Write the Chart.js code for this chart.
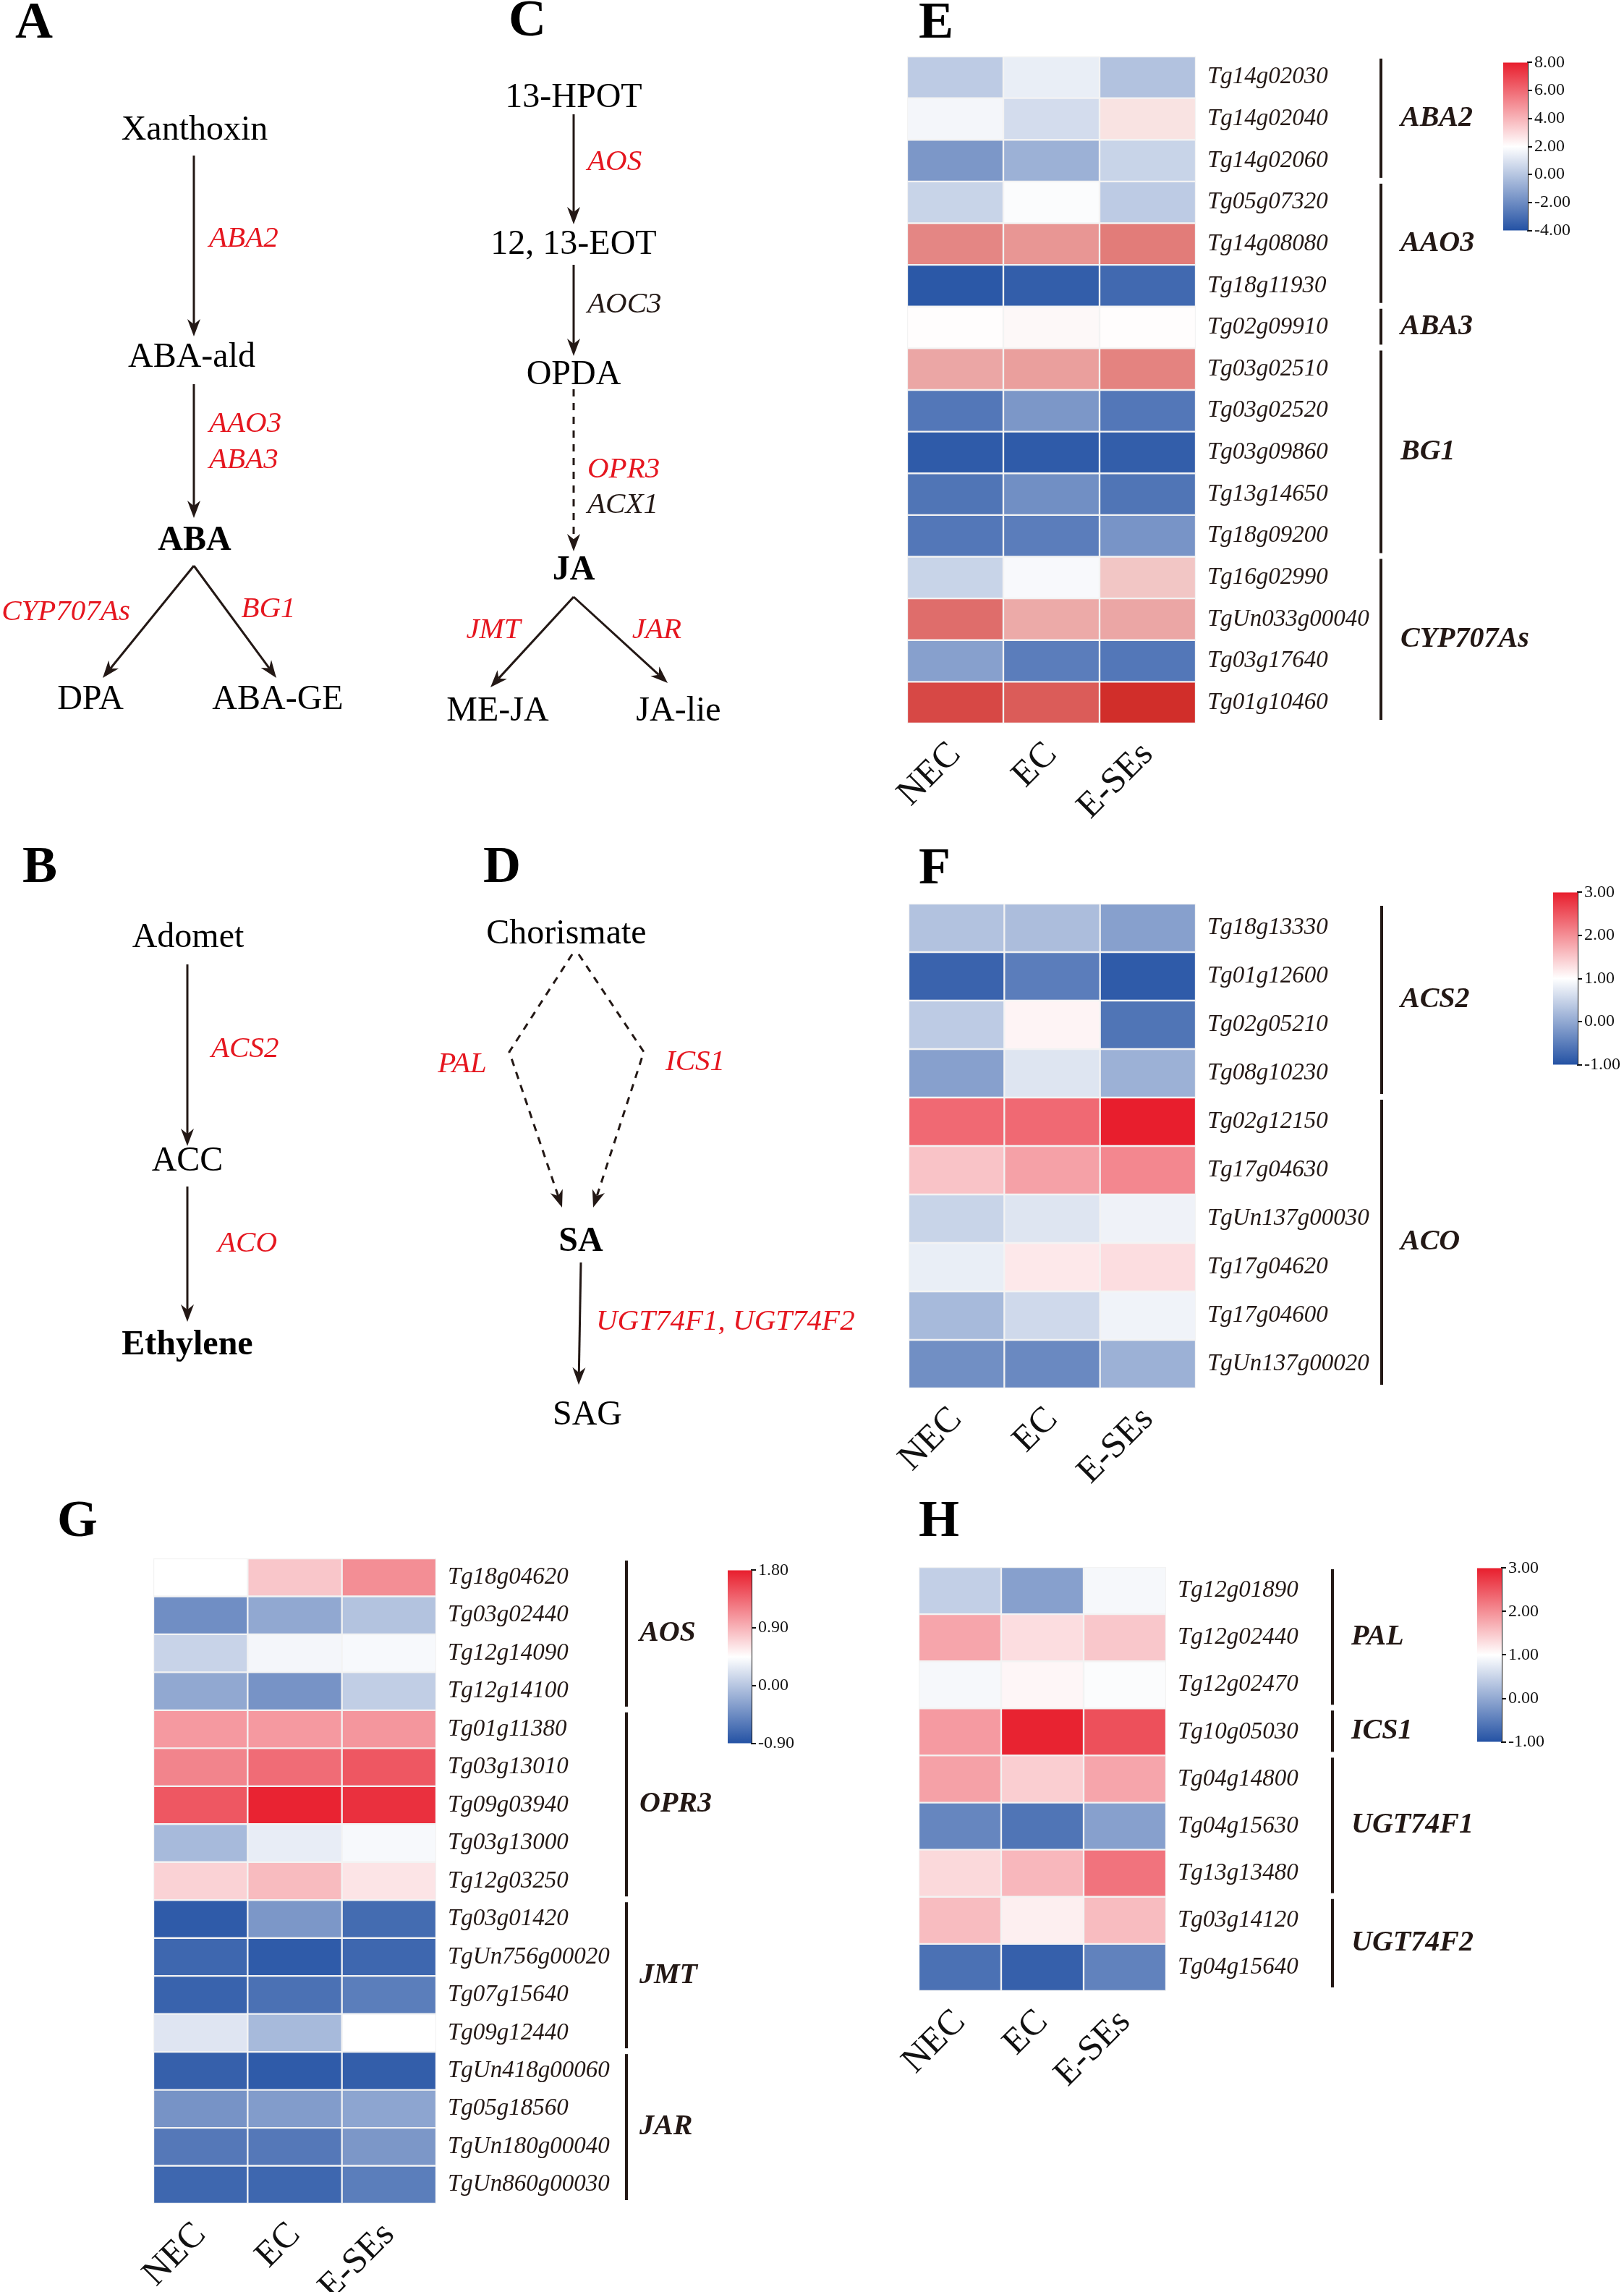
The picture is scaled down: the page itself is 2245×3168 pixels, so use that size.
<!DOCTYPE html>
<html>
<head>
<meta charset="utf-8">
<script src="https://cdn.jsdelivr.net/npm/chart.js@4.4.0/dist/chart.umd.min.js"></script>
<style>
  body { margin: 0; background: #fff; width: 2245px; height: 3168px; position: relative; overflow: hidden; }
  canvas { position: absolute; }
</style>
</head>
<body>
<script>
// ---- data ----
const columns = ["NEC", "EC", "E-SEs"];

// E: ABA
const eGenes = ["Tg14g02030", "Tg14g02040", "Tg14g02060", "Tg05g07320", "Tg14g08080", "Tg18g11930", "Tg02g09910", "Tg03g02510", "Tg03g02520", "Tg03g09860", "Tg13g14650", "Tg18g09200", "Tg16g02990", "TgUn033g00040", "Tg03g17640", "Tg01g10460"];
const eNEC = [0.2, 1.7, -1.6, 0.5, 5.4, -3.8, 2.05, 4.5, -2.7, -3.7, -2.8, -2.7, 0.5, 6.1, -1.3, 7.15];
const eEC = [1.4, 0.8, -0.7, 1.9, 4.95, -3.6, 2.2, 4.7, -1.6, -3.7, -1.9, -2.5, 1.8, 4.4, -2.5, 6.6];
const eESE = [-0.1, 2.8, 0.5, 0.2, 5.7, -3.2, 2.05, 5.5, -2.7, -3.6, -2.8, -1.7, 3.6, 4.5, -2.7, 7.9];
const eGroups = [["ABA2", 0, 2], ["AAO3", 3, 5], ["ABA3", 6, 6], ["BG1", 7, 11], ["CYP707As", 12, 15]];

// F: ethylene
const fGenes = ["Tg18g13330", "Tg01g12600", "Tg02g05210", "Tg08g10230", "Tg02g12150", "Tg17g04630", "TgUn137g00030", "Tg17g04620", "Tg17g04600", "TgUn137g00020"];
const fNEC = [0.3, -0.8, 0.4, -0.1, 2.33, 1.53, 0.5, 0.8, 0.2, -0.3];
const fEC = [0.24, -0.5, 1.1, 0.7, 2.33, 1.84, 0.7, 1.2, 0.56, -0.36];
const fESE = [-0.1, -0.9, -0.6, 0.1, 3.0, 2.07, 0.85, 1.3, 0.86, 0.1];
const fGroups = [["ACS2", 0, 3], ["ACO", 4, 9]];

// G: JA
const gGenes = ["Tg18g04620", "Tg03g02440", "Tg12g14090", "Tg12g14100", "Tg01g11380", "Tg03g13010", "Tg09g03940", "Tg03g13000", "Tg12g03250", "Tg03g01420", "TgUn756g00020", "Tg07g15640", "Tg09g12440", "TgUn418g00060", "Tg05g18560", "TgUn180g00040", "TgUn860g00030"];
const gNEC = [0.45, -0.43, 0.11, -0.23, 1.06, 1.19, 1.46, -0.09, 0.72, -0.83, -0.74, -0.77, 0.25, -0.79, -0.39, -0.6, -0.74];
const gEC = [0.79, -0.23, 0.38, -0.39, 1.06, 1.33, 1.77, 0.31, 0.86, -0.36, -0.83, -0.66, -0.09, -0.83, -0.32, -0.6, -0.74];
const gESE = [1.13, -0.02, 0.4, 0.07, 1.08, 1.46, 1.69, 0.4, 0.61, -0.7, -0.74, -0.56, 0.45, -0.81, -0.25, -0.36, -0.56];
const gGroups = [["AOS", 0, 3], ["OPR3", 4, 8], ["JMT", 9, 12], ["JAR", 13, 16]];

// H: SA
const hGenes = ["Tg12g01890", "Tg12g02440", "Tg12g02470", "Tg10g05030", "Tg04g14800", "Tg04g15630", "Tg13g13480", "Tg03g14120", "Tg04g15640"];
const hNEC = [0.44, 1.8, 0.92, 1.9, 1.84, -0.4, 1.34, 1.6, -0.64];
const hEC = [-0.1, 1.3, 1.08, 2.96, 1.44, -0.6, 1.64, 1.14, -0.84];
const hESE = [0.92, 1.5, 0.96, 2.56, 1.8, -0.1, 2.24, 1.6, -0.44];
const hGroups = [["PAL", 0, 2], ["ICS1", 3, 3], ["UGT74F1", 4, 6], ["UGT74F2", 7, 8]];

// pathway diagrams: [text, x, y, kind, align]
const pathNodes = [
  ["A", 47, 33, "L", "center"], ["C", 729, 30, "L", "center"], ["B", 55, 1200, "L", "center"], ["D", 694, 1200, "L", "center"],
  ["E", 1294, 33, "L", "center"], ["F", 1292, 1202, "L", "center"], ["G", 107, 2104, "L", "center"], ["H", 1298, 2104, "L", "center"],
  ["Xanthoxin", 269, 180, "n", "center"], ["ABA-ald", 265, 494, "n", "center"], ["ABA", 269, 748, "b", "center"],
  ["DPA", 125, 967, "n", "center"], ["ABA-GE", 384, 967, "n", "center"],
  ["ABA2", 289, 330, "r", "left"], ["AAO3", 289, 586, "r", "left"], ["ABA3", 289, 636, "r", "left"],
  ["CYP707As", 91, 846, "r", "center"], ["BG1", 371, 842, "r", "center"],
  ["13-HPOT", 793, 135, "n", "center"], ["12, 13-EOT", 793, 338, "n", "center"], ["OPDA", 793, 518, "n", "center"],
  ["JA", 793, 789, "b", "center"], ["ME-JA", 688, 983, "n", "center"], ["JA-lie", 938, 983, "n", "center"],
  ["AOS", 812, 224, "r", "left"], ["AOC3", 812, 421, "k", "left"], ["OPR3", 812, 649, "r", "left"], ["ACX1", 812, 698, "k", "left"],
  ["JMT", 682, 871, "r", "center"], ["JAR", 908, 871, "r", "center"],
  ["Adomet", 260, 1296, "n", "center"], ["ACC", 259, 1605, "n", "center"], ["Ethylene", 259, 1860, "b", "center"],
  ["ACS2", 292, 1450, "r", "left"], ["ACO", 301, 1719, "r", "left"],
  ["Chorismate", 783, 1291, "n", "center"], ["SA", 803, 1717, "b", "center"], ["SAG", 812, 1956, "n", "center"],
  ["PAL", 639, 1471, "r", "center"], ["ICS1", 961, 1468, "r", "center"], ["UGT74F1, UGT74F2", 824, 1827, "r", "left"]
];
// [points, dashed]
const pathArrows = [
  [[[268, 215], [268, 465]], false], [[[268, 531], [268, 716]], false],
  [[[268, 782], [142, 937]], false], [[[268, 782], [382, 937]], false],
  [[[793, 158], [793, 310]], false], [[[793, 366], [793, 492]], false], [[[793, 538], [793, 762]], true],
  [[[793, 825], [678, 950]], false], [[[793, 825], [923, 944]], false],
  [[[259, 1333], [259, 1584]], false], [[[259, 1640], [259, 1827]], false],
  [[[791, 1319], [704, 1454], [777, 1669]], true], [[[800, 1319], [890, 1454], [820, 1669]], true],
  [[[803, 1745], [800, 1914]], false]
];

Chart.defaults.font.family = '"Liberation Serif", "Times New Roman", serif';
Chart.defaults.color = "#231815";

const BLUE = [36, 82, 164], WHITE = [255, 255, 255], RED = [232, 30, 45], RED_E = [208, 42, 38];
function colorFor(v, lo, hi, red = RED) {
  let t = Math.max(0, Math.min(1, (v - lo) / (hi - lo)));
  let a, b, f;
  if (t < 0.5) { a = BLUE; b = WHITE; f = t / 0.5; } else { a = WHITE; b = red; f = (t - 0.5) / 0.5; }
  const c = a.map((x, i) => Math.round(x + (b[i] - x) * f));
  return `rgb(${c[0]},${c[1]},${c[2]})`;
}

function makeCanvas(left, top, w, h) {
  const c = document.createElement("canvas");
  c.width = w; c.height = h;
  c.style.left = left + "px"; c.style.top = top + "px";
  document.body.appendChild(c);
  return c;
}

// ---- pathway diagrams ----
const fonts = {
  L: ["bold", "normal", 72, "#000"],
  n: ["normal", "normal", 48, "#000"],
  b: ["bold", "normal", 48, "#000"],
  r: ["normal", "italic", 41, "#e5161f"],
  k: ["normal", "italic", 41, "#231815"]
};
const pathPlugin = {
  id: "paths",
  afterDraw(chart) {
    const { ctx } = chart;
    const xs = chart.scales.x, ys = chart.scales.y;
    const P = (p) => [xs.getPixelForValue(p[0]), ys.getPixelForValue(p[1])];
    ctx.save();
    ctx.strokeStyle = "#231815";
    ctx.fillStyle = "#231815";
    ctx.lineWidth = 3;
    pathArrows.forEach(([pts, dashed]) => {
      const q = pts.map(P);
      const end = q[q.length - 1], prev = q[q.length - 2];
      const ang = Math.atan2(end[1] - prev[1], end[0] - prev[0]);
      const hl = 24, hw = 9;
      const stop = [end[0] - Math.cos(ang) * hl * 0.7, end[1] - Math.sin(ang) * hl * 0.7];
      ctx.setLineDash(dashed ? [10, 9] : []);
      ctx.beginPath();
      ctx.moveTo(q[0][0], q[0][1]);
      for (let i = 1; i < q.length - 1; i++) ctx.lineTo(q[i][0], q[i][1]);
      ctx.lineTo(stop[0], stop[1]);
      ctx.stroke();
      ctx.setLineDash([]);
      const bx = end[0] - Math.cos(ang) * hl, by = end[1] - Math.sin(ang) * hl;
      ctx.beginPath();
      ctx.moveTo(end[0], end[1]);
      ctx.lineTo(bx - Math.sin(ang) * hw, by + Math.cos(ang) * hw);
      ctx.lineTo(stop[0], stop[1]);
      ctx.lineTo(bx + Math.sin(ang) * hw, by - Math.cos(ang) * hw);
      ctx.closePath();
      ctx.fill();
    });
    ctx.textBaseline = "middle";
    pathNodes.forEach(([t, x, y, kind, align]) => {
      const f = fonts[kind];
      ctx.font = `${f[1]} ${f[0]} ${f[2]}px "Liberation Serif", serif`;
      ctx.fillStyle = f[3];
      ctx.textAlign = align;
      const p = P([x, y]);
      ctx.fillText(t, p[0], p[1]);
    });
    ctx.restore();
  }
};
new Chart(makeCanvas(0, 0, 2245, 3168), {
  type: "scatter",
  data: { datasets: [] },
  options: {
    responsive: false, animation: false, devicePixelRatio: 1,
    layout: { padding: 0 },
    plugins: { legend: { display: false }, tooltip: { enabled: false } },
    scales: {
      x: { type: "linear", min: 0, max: 2245, display: false },
      y: { type: "linear", min: 0, max: 3168, reverse: true, display: false }
    }
  },
  plugins: [pathPlugin]
});

// ---- heatmaps ----
const bracketPlugin = {
  id: "brackets",
  afterDraw(chart, args, o) {
    const { ctx, chartArea } = chart;
    const y = chart.scales.y;
    const step = (chartArea.bottom - chartArea.top) / chart.data.labels.length;
    ctx.save();
    ctx.strokeStyle = "#231815";
    ctx.fillStyle = "#231815";
    ctx.lineWidth = 4;
    ctx.font = 'italic bold 40px "Liberation Serif", serif';
    ctx.textBaseline = "middle";
    o.groups.forEach(([name, from, to]) => {
      const t = y.getPixelForValue(from) - step / 2 + 3;
      const b = y.getPixelForValue(to) + step / 2 - 5;
      const lx = chartArea.right + o.lineX;
      ctx.beginPath();
      ctx.moveTo(lx, t);
      ctx.lineTo(lx, b);
      ctx.stroke();
      ctx.fillText(name, chartArea.right + o.textX, (t + b) / 2);
    });
    ctx.restore();
  }
};

function heatmap(genes, vals, groups, lo, hi, red, box, lineX, textX) {
  const pad = 4, padL = 90, rightW = 540, bottomH = 150;
  const canvas = makeCanvas(box.left - padL, box.top - pad, box.width + padL + rightW, box.height + pad + bottomH);
  new Chart(canvas, {
    type: "bar",
    data: {
      labels: genes,
      datasets: vals.map((v, j) => ({
        label: columns[j],
        data: genes.map(() => 1),
        backgroundColor: v.map((x) => colorFor(x, lo, hi, red)),
        borderColor: "#f3f3f3",
        borderWidth: 1.5,
        borderSkipped: false,
        barPercentage: 1,
        categoryPercentage: 1
      }))
    },
    options: {
      indexAxis: "y", responsive: false, animation: false, devicePixelRatio: 1,
      layout: { padding: { left: padL, top: pad, right: 0, bottom: 0 } },
      plugins: {
        legend: { display: false }, tooltip: { enabled: false },
        brackets: { groups, lineX, textX }
      },
      scales: {
        x: {
          stacked: true, min: 0, max: 3, position: "bottom",
          grid: { display: false, drawTicks: false }, border: { display: false },
          afterBuildTicks: (s) => { s.ticks = [0.5, 1.5, 2.5].map((v) => ({ value: v })); },
          afterFit: (s) => { s.height = bottomH; s.paddingLeft = 0; s.paddingRight = 0; },
          ticks: {
            autoSkip: false, minRotation: 45, maxRotation: 45, padding: 14,
            font: { size: 50 }, color: "#111",
            callback: (v, i) => columns[i]
          }
        },
        y: {
          stacked: true, position: "right",
          grid: { display: false, drawTicks: false }, border: { display: false },
          afterFit: (s) => { s.width = rightW; s.paddingTop = 0; s.paddingBottom = 0; },
          ticks: { autoSkip: false, padding: 16, font: { size: 33, style: "italic" }, color: "#231815" }
        }
      }
    },
    plugins: [bracketPlugin]
  });
}

function colorbar(lo, hi, stepSize, box) {
  const pad = 16, axisW = 110;
  const canvas = makeCanvas(box.left, box.top - pad, box.width + axisW, box.height + 2 * pad);
  new Chart(canvas, {
    type: "bar",
    data: {
      labels: [""],
      datasets: [{
        data: [[lo, hi]],
        barPercentage: 1, categoryPercentage: 1, borderWidth: 0,
        backgroundColor: (c) => {
          const area = c.chart.chartArea;
          if (!area) return "#fff";
          const g = c.chart.ctx.createLinearGradient(0, area.bottom, 0, area.top);
          [0, 0.25, 0.5, 0.75, 1].forEach((s) => g.addColorStop(s, colorFor(lo + (hi - lo) * s, lo, hi)));
          return g;
        }
      }]
    },
    options: {
      responsive: false, animation: false, devicePixelRatio: 1,
      layout: { padding: { top: pad, bottom: pad, left: 0, right: 0 } },
      plugins: { legend: { display: false }, tooltip: { enabled: false } },
      scales: {
        x: { display: false },
        y: {
          position: "right", min: lo, max: hi,
          afterFit: (s) => { s.width = axisW; },
          grid: { drawOnChartArea: false, drawTicks: true, tickLength: 6, color: "#111", lineWidth: 2 },
          border: { display: true, color: "#111", width: 2 },
          ticks: { stepSize, padding: 3, font: { size: 24 }, color: "#111", callback: (v) => v.toFixed(2) }
        }
      }
    }
  });
}

heatmap(eGenes, [eNEC, eEC, eESE], eGroups, -4, 8, RED_E, { left: 1254, top: 78, width: 399, height: 922 }, 256, 283);
colorbar(-4, 8, 2, { left: 2078, top: 85, width: 34, height: 235 });

heatmap(fGenes, [fNEC, fEC, fESE], fGroups, -1, 3, RED, { left: 1256, top: 1249, width: 397, height: 670 }, 257, 283);
colorbar(-1, 3, 1, { left: 2147, top: 1232, width: 34, height: 241 });

heatmap(gGenes, [gNEC, gEC, gESE], gGroups, -0.9, 1.8, RED, { left: 212, top: 2154, width: 391, height: 892 }, 263, 281);
colorbar(-0.9, 1.8, 0.9, { left: 1006, top: 2169, width: 33, height: 242 });

heatmap(hGenes, [hNEC, hEC, hESE], hGroups, -1, 3, RED, { left: 1270, top: 2166, width: 342, height: 586 }, 230, 256);
colorbar(-1, 3, 1, { left: 2042, top: 2166, width: 34, height: 243 });
</script>
</body>
</html>
